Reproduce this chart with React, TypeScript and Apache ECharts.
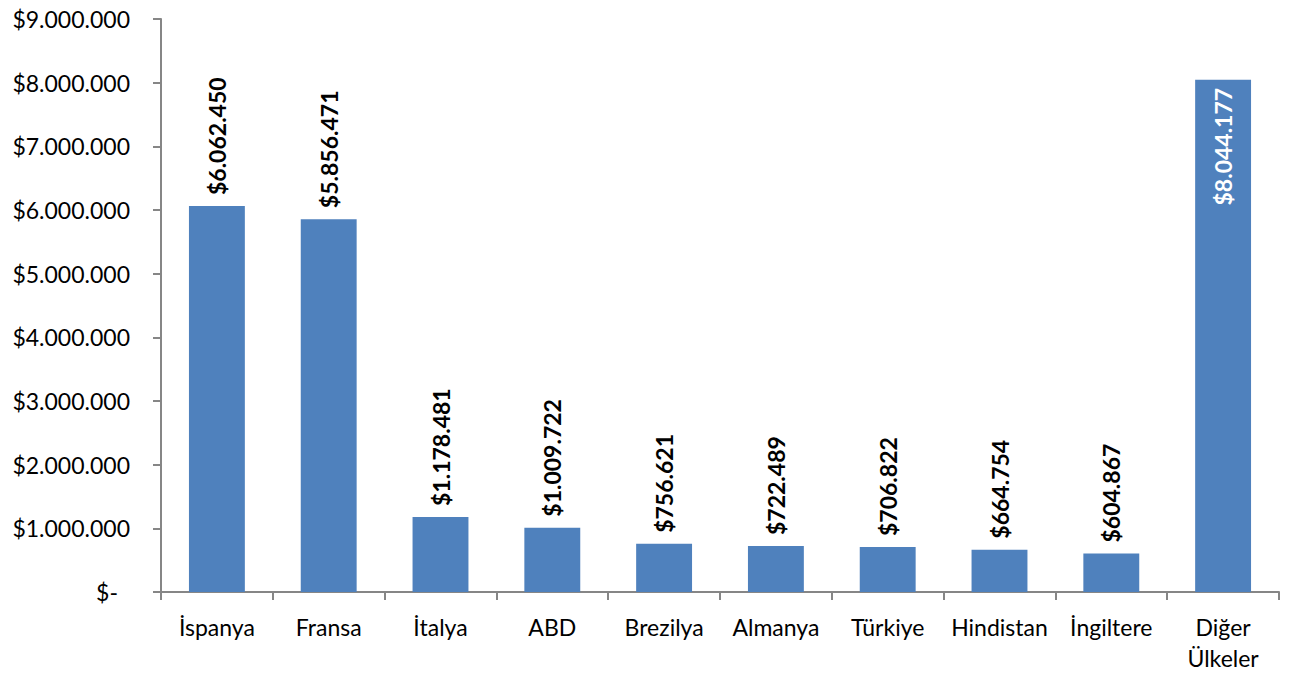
import React, { useEffect, useRef } from "react";
import * as echarts from "echarts";

const categories = ["İspanya", "Fransa", "İtalya", "ABD", "Brezilya", "Almanya", "Türkiye", "Hindistan", "İngiltere", "Diğer\nÜlkeler"];
const values = [6062450, 5856471, 1178481, 1009722, 756621, 722489, 706822, 664754, 604867, 8044177];
const yMax = 9000000;
const yInterval = 1000000;

const fmt = (v: number) => {
  if (v === 0) return "$-";
  return "$" + Math.round(v).toString().replace(/\B(?=(\d{3})+(?!\d))/g, ".");
};

export default function App() {
  const ref = useRef<HTMLDivElement>(null);
  useEffect(() => {
    const chart = echarts.init(ref.current!, undefined, { renderer: "svg" });
    const font = "Lato, 'Noto Sans', sans-serif";
    const maxIdx = values.indexOf(Math.max(...values));
    chart.setOption({
      animation: false,
      grid: { left: 161, right: 17, top: 19, bottom: 83, containLabel: false },
      xAxis: {
        type: "category",
        data: categories,
        axisLine: { lineStyle: { color: "#868686", width: 2 } },
        axisTick: { show: true, length: 8, lineStyle: { color: "#868686", width: 2 } },
        axisLabel: { color: "#000", fontSize: 23, fontFamily: font, margin: 19, lineHeight: 31, interval: 0 },
      },
      yAxis: {
        type: "value",
        min: 0,
        max: yMax,
        interval: yInterval,
        splitLine: { show: false },
        axisLine: { show: true, lineStyle: { color: "#868686", width: 2 } },
        axisTick: { show: true, length: 8, lineStyle: { color: "#868686", width: 2 } },
        axisLabel: {
          color: "#000",
          fontSize: 23,
          fontFamily: font,
          margin: 31,
          formatter: (v: number) => (v === 0 ? "{z|$-}" : fmt(v)),
          rich: { z: { fontSize: 23, fontFamily: font, color: "#000", padding: [0, 12, 0, 0] } },
        },
      },
      series: [
        {
          type: "bar",
          barWidth: "50%",
          itemStyle: { color: "#4F81BD" },
          data: values.map((v, i) => ({
            value: v,
            label: i === maxIdx
              ? { position: "insideTop", rotate: 90, align: "right", verticalAlign: "middle", distance: 8, color: "#fff" }
              : { position: "top", rotate: 90, align: "left", verticalAlign: "middle", distance: 11, color: "#000" },
          })),
          label: {
            show: true,
            fontSize: 23,
            fontWeight: "bold",
            fontFamily: font,
            formatter: (p: any) => fmt(p.value),
          },
        },
      ],
    });
    return () => chart.dispose();
  }, []);
  return <div ref={ref} style={{ position: "absolute", left: 0, top: 0, width: 1296, height: 675 }} />;
}
